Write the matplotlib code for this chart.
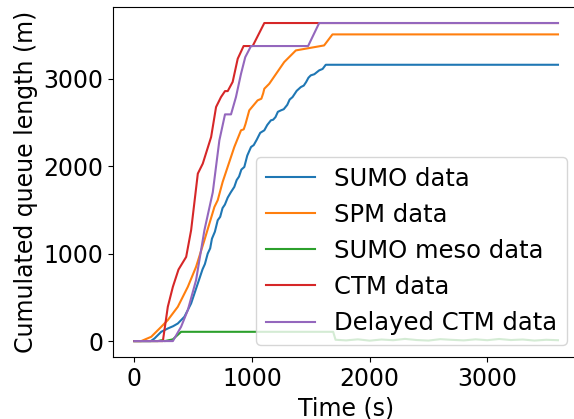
import matplotlib
matplotlib.use("Agg")
from matplotlib import pyplot

# time (s) / cumulated queue length (m)
sumo_t = [0, 140, 172, 229, 285, 330, 370, 426, 483, 540, 580, 600, 624, 645, 660, 685, 709,
          730, 750, 770, 794, 820, 850, 870, 890, 910, 935, 960, 992, 1015, 1040, 1070, 1105,
          1130, 1161, 1180, 1200, 1220, 1246, 1270, 1300, 1320, 1345, 1380, 1415, 1440, 1460,
          1480, 1500, 1530, 1571, 1600, 1627, 3600]
sumo_q = [0, 0, 30, 106, 144, 170, 201, 278, 430, 659, 820, 880, 1000, 1060, 1170, 1250, 1381,
          1420, 1520, 1560, 1640, 1700, 1762, 1840, 1880, 1960, 1990, 2120, 2218, 2240, 2300,
          2380, 2409, 2470, 2523, 2530, 2560, 2620, 2637, 2650, 2700, 2760, 2789, 2860, 2903,
          2920, 2960, 3010, 3037, 3050, 3094, 3110, 3158, 3158]

spm_t = [0, 59, 144, 229, 285, 370, 455, 525, 596, 681, 709, 751, 850, 907, 930, 945, 977,
         1048, 1080, 1095, 1105, 1147, 1274, 1373, 1613, 1684, 3600]
spm_q = [0, 0, 49, 163, 240, 392, 620, 848, 1153, 1533, 1610, 1819, 2218, 2409, 2420, 2480,
         2637, 2751, 2770, 2830, 2884, 2941, 3189, 3322, 3379, 3505, 3505]

meso_t = [0, 200, 230, 260, 300, 328, 398, 1690, 1710, 1800, 1900, 2000, 2100, 2200, 2300,
          2400, 2500, 2600, 2700, 2800, 2900, 3000, 3100, 3200, 3300, 3400, 3500, 3600]
meso_q = [0, 0, 10, 0, 12, 20, 106, 106, 15, 8, 20, 5, 18, 10, 25, 12, 6, 22, 14, 8, 20,
          10, 24, 12, 18, 6, 15, 10]

ctm_t = [0, 243, 285, 328, 376, 441, 483, 540, 582, 653, 695, 737, 771, 794, 836, 879,
         929, 1006, 1105, 3600]
ctm_q = [0, 0, 392, 620, 818, 962, 1267, 1914, 2028, 2332, 2675, 2789, 2857, 2857, 2962,
         3227, 3372, 3372, 3635, 3635]

dctm_t = [0, 328, 398, 455, 525, 596, 667, 723, 771, 822, 864, 907, 943, 992, 1477, 1571, 3600]
dctm_q = [0, 0, 164, 354, 696, 1267, 1700, 2294, 2591, 2591, 2789, 3055, 3245, 3372, 3372,
          3635, 3635]

if __name__ == "__main__":
    pyplot.rcParams["font.size"] = 17
    fig = pyplot.figure(figsize=(5.74, 4.19), dpi=100)
    ax = fig.add_axes([0.197, 0.148, 0.812, 0.835])
    ax.plot(sumo_t, sumo_q, label="SUMO data")
    ax.plot(spm_t, spm_q, label="SPM data")
    ax.plot(meso_t, meso_q, label="SUMO meso data")
    ax.plot(ctm_t, ctm_q, label="CTM data")
    ax.plot(dctm_t, dctm_q, label="Delayed CTM data")
    ax.set_xlabel("Time (s)")
    ax.set_ylabel("Cumulated queue length (m)")
    ax.set_xticks([0, 1000, 2000, 3000])
    ax.set_yticks([0, 1000, 2000, 3000])
    ax.legend(loc="lower right", fontsize=17.5)
    fig.savefig("out.png", dpi=100)
